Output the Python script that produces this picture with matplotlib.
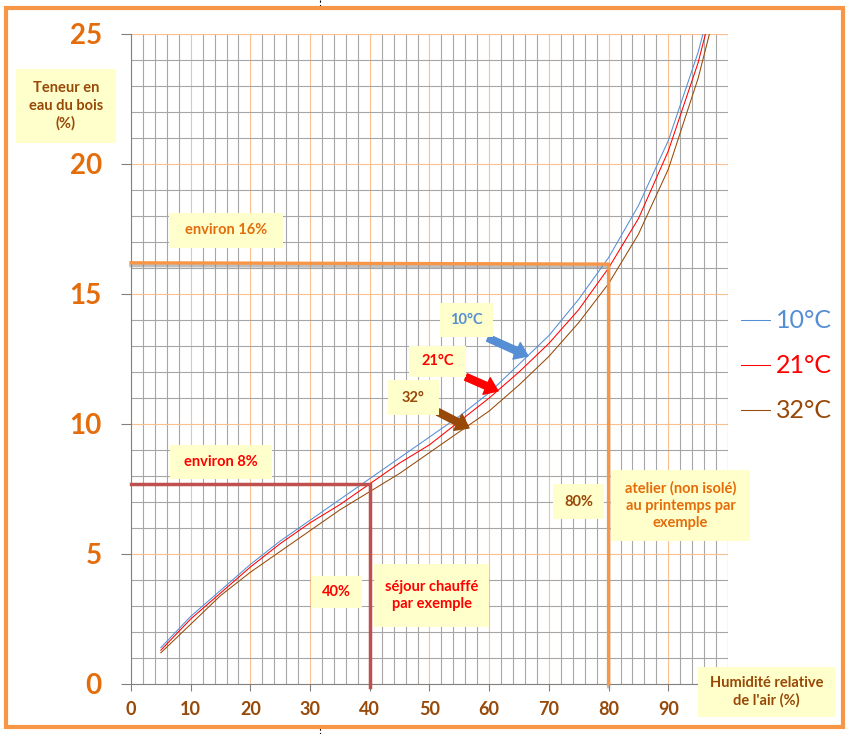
import matplotlib
matplotlib.use('Agg')
import matplotlib.pyplot as plt
from matplotlib.ticker import MultipleLocator
from matplotlib.patches import Rectangle
import matplotlib.patheffects as pe

plt.rcParams['font.family'] = ['Lato', 'DejaVu Sans']

# humidite relative (%) et teneur en eau du bois (%)
rh = [5, 10, 15, 20, 25, 30, 35, 40, 45, 50, 55, 60, 65, 70, 75, 80, 85, 90, 95, 98]
emc_10 = [1.4, 2.6, 3.6, 4.6, 5.5, 6.3, 7.1, 7.9, 8.7, 9.5, 10.3, 11.2, 12.3, 13.4, 14.8, 16.4, 18.4, 20.9, 24.3, 26.9]
emc_21 = [1.3, 2.5, 3.5, 4.5, 5.4, 6.2, 6.9, 7.7, 8.5, 9.2, 10.1, 11.0, 12.0, 13.1, 14.4, 16.0, 17.9, 20.5, 23.9, 26.6]
emc_32 = [1.2, 2.3, 3.4, 4.3, 5.1, 5.9, 6.7, 7.4, 8.1, 8.9, 9.7, 10.5, 11.5, 12.6, 13.9, 15.4, 17.3, 19.8, 23.3, 26.0]
labels = ['10°C', '21°C', '32°C']
colors = ['#558ED5', '#FF0000', '#984807']

# exemples (humidite, teneur)
ex_rh = [40, 80]
ex_emc = [7.7, 16.15]

W, H = 852, 734
fig = plt.figure(figsize=(W / 100, H / 100), dpi=100)
ax = fig.add_axes([131 / W, 50 / H, 597 / W, 650 / H])

def px(x, y):
    # pixels de l'image (origine en haut a gauche) -> fraction de figure
    return x / W, 1 - y / H

def boite(x0, y0, x1, y1, txt, col, size=10.5):
    fx0, fy1 = px(x0, y0)
    fx1, fy0 = px(x1, y1)
    fig.patches.append(Rectangle((fx0, fy0), fx1 - fx0, fy1 - fy0, transform=fig.transFigure,
                                 fc='#FFFFCC', ec='none', zorder=5))
    fig.text((fx0 + fx1) / 2, (fy0 + fy1) / 2, txt, color=col, fontsize=size, fontweight='bold',
             ha='center', va='center', linespacing=1.3, zorder=6)

# courbes
for y, lab, c in zip([emc_10, emc_21, emc_32], labels, colors):
    ax.plot(rh, y, color=c, lw=0.75, label=lab, zorder=3)

ax.set_xlim(0, 100)
ax.set_ylim(0, 25)
ax.xaxis.set_major_locator(MultipleLocator(10))
ax.xaxis.set_minor_locator(MultipleLocator(2))
ax.yaxis.set_major_locator(MultipleLocator(5))
ax.yaxis.set_minor_locator(MultipleLocator(1))
ax.set_xticks(range(0, 100, 10))
ax.set_axisbelow(True)
ax.grid(which='minor', color='#A6A6A6', lw=0.8)
ax.grid(which='major', color='#FAC090', lw=0.8)
ax.axvline(100, color='#FAC090', lw=0.8, zorder=1)
ax.axhline(25, color='#FAC090', lw=0.8, zorder=1)
for s in ['top', 'right']:
    ax.spines[s].set_visible(False)
for s in ['left', 'bottom']:
    ax.spines[s].set_color('#808080')
ax.tick_params(which='minor', length=0)
ax.tick_params(axis='y', which='major', length=7, color='#808080', pad=14,
               labelsize=20, labelcolor='#E46C0A')
ax.tick_params(axis='x', which='major', length=5, color='#808080', pad=7,
               labelsize=13, labelcolor='#984807')
for t in ax.get_yticklabels() + ax.get_xticklabels():
    t.set_fontweight('bold')

# lignes d'exemple
ax.plot([0, ex_rh[1], ex_rh[1]], [16.2, ex_emc[1], 0], color='#F79646', lw=2.4,
        solid_joinstyle='miter', clip_on=False, zorder=4,
        path_effects=[pe.SimpleLineShadow(offset=(0, -2), shadow_color='#808080', alpha=0.5), pe.Normal()])
ax.plot([0, ex_rh[0], ex_rh[0]], [ex_emc[0], ex_emc[0], -0.1], color='#C0504D', lw=2.5,
        solid_joinstyle='miter', clip_on=False, zorder=4)

# legende
ax.legend(loc='center left', bbox_to_anchor=(741 / W, 1 - 366 / H), bbox_transform=fig.transFigure,
          frameon=False, fontsize=18, labelcolor='linecolor', handlelength=1.15,
          handletextpad=0.25, labelspacing=0.88, borderaxespad=0, borderpad=0)

# boites de texte
boite(16, 69, 116, 143, 'Teneur en\neau du bois\n(%)', '#984807')
boite(169, 213, 283, 248, 'environ 16%', '#E46C0A')
boite(170, 445, 272, 479, 'environ 8%', '#FF0000')
boite(311, 576, 362, 608, '40%', '#FF0000')
boite(374, 564, 489, 627, 'séjour chauffé\npar exemple', '#FF0000')
boite(553, 484, 604, 519, '80%', '#984807')
boite(611, 470, 750, 541, 'atelier (non isolé)\nau printemps par\nexemple', '#E46C0A')
boite(698, 667, 835, 717, "Humidité relative\nde l'air (%)", '#984807')
boite(440, 303, 493, 337, '10°C', '#558ED5')
boite(409, 346, 466, 377, '21°C', '#FF0000')
boite(388, 380, 439, 415, '32°', '#984807')

# fleches
fleches = [((488, 338), (528, 356), '#558ED5'),
           ((466, 377), (498, 391), '#FF0000'),
           ((438, 412), (469, 428), '#984807')]
for (x0, y0), (x1, y1), c in fleches:
    ax.annotate('', xy=(x1, H - y1), xytext=(x0, H - y0), xycoords='figure pixels',
                textcoords='figure pixels', zorder=7,
                arrowprops=dict(arrowstyle='simple,head_length=0.9,head_width=1.3,tail_width=0.5',
                                mutation_scale=10, fc=c, ec=c, shrinkA=0, shrinkB=0))

# cadre
fig.patches.append(Rectangle(px(6, 727), 837 / W, 719 / H, transform=fig.transFigure,
                             fc='none', ec='#F79646', lw=3, zorder=10))
fig.add_artist(plt.Line2D([319.5 / W] * 2, [1 - 0 / H, 1 - 7 / H], color='k', lw=0.8, ls=(0, (2, 2))))
fig.add_artist(plt.Line2D([319.5 / W] * 2, [1 - 728 / H, 1 - 734 / H], color='k', lw=0.8, ls=(0, (2, 2))))

fig.savefig('out.png', dpi=100)
